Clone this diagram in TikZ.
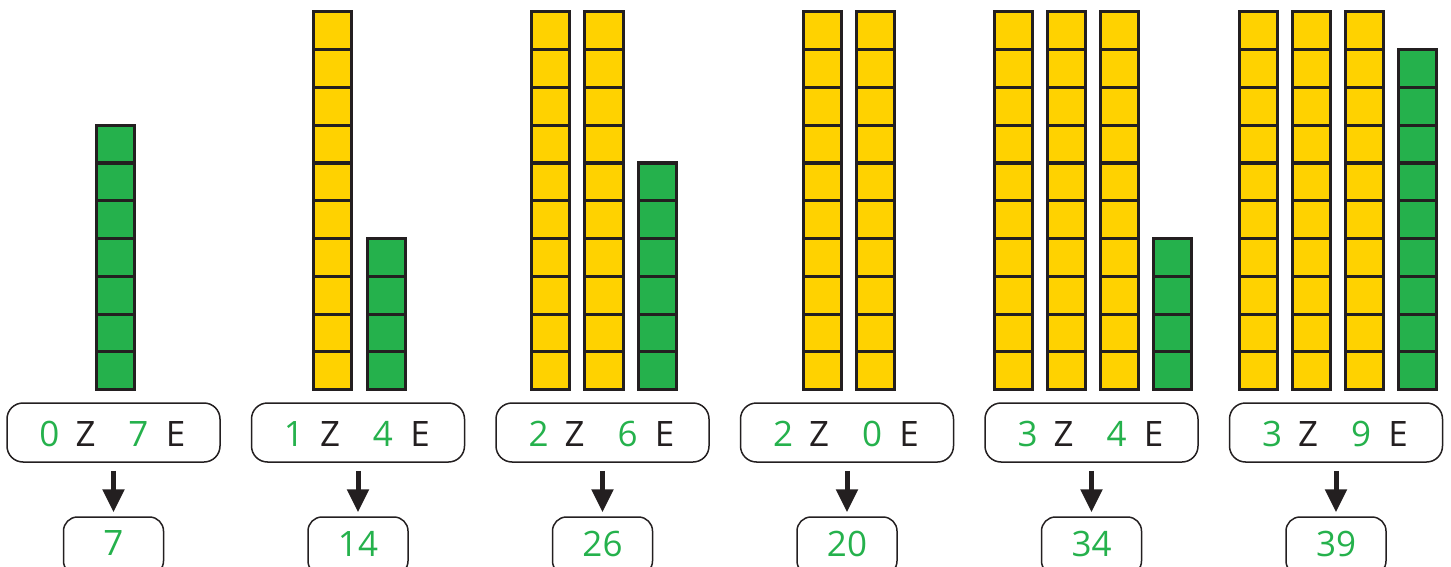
\documentclass[tikz,border=0pt]{standalone}
\usepackage{fontspec}
\setmainfont{Open Sans}
\usetikzlibrary{arrows.meta}
\definecolor{cgreen}{HTML}{25B14C}
\definecolor{cyellow}{HTML}{FFD200}
\definecolor{cline}{HTML}{231F20}
\newcommand\cubecol[3]{\foreach \k in {1,...,#2}{\draw[cube,fill=#3] ({#1},{389.5-37.75*\k}) rectangle ++(38.5,37.75);}}
\newcommand\grp[5]{%
 \node[bigbox] (b#1) at (#2,432.5) {};
 \node[dig] (b#1t) at ({#2-64},434) {#3};
 \node[let] (b#1z) at ({#2-28},434) {Z};
 \node[dig] (b#1o) at ({#2+25},434) {#4};
 \node[let] (b#1e) at ({#2+62},434) {E};
 \node[smallbox] (s#1) at (#2,546) {};
 \node[dig] (s#1t) at (#2,543.5) {#5};
 \draw[arr] (b#1) -- (s#1);
}
\begin{document}
\begin{tikzpicture}[x=1pt,y=-1pt,
  cube/.style={draw=cline,line width=3pt},
  bigbox/.style={draw=cline,line width=1.5pt,rounded corners=16pt,minimum width=213pt,minimum height=59pt,inner sep=0pt},
  smallbox/.style={draw=cline,line width=1.5pt,rounded corners=14pt,minimum width=100pt,minimum height=58pt,inner sep=0pt},
  dig/.style={inner sep=0pt,text=cgreen,font=\fontsize{35}{42}\selectfont},
  let/.style={inner sep=0pt,text=cline,font=\fontsize{35}{42}\selectfont},
  arr/.style={draw=cline,line width=5pt,-{Triangle[width=21pt,length=23pt]},shorten <=8pt,shorten >=4pt}]
\useasboundingbox (0,0) rectangle (1451,567);
\clip (0,0) rectangle (1451,567);
% group 1
\cubecol{96}{7}{cgreen}
% group 2
\cubecol{313}{10}{cyellow}
\cubecol{367}{4}{cgreen}
% group 3
\cubecol{531}{10}{cyellow}
\cubecol{584.5}{10}{cyellow}
\cubecol{638}{6}{cgreen}
% group 4
\cubecol{803}{10}{cyellow}
\cubecol{856}{10}{cyellow}
% group 5
\cubecol{994}{10}{cyellow}
\cubecol{1047}{10}{cyellow}
\cubecol{1100}{10}{cyellow}
\cubecol{1153}{4}{cgreen}
% group 6
\cubecol{1239}{10}{cyellow}
\cubecol{1292}{10}{cyellow}
\cubecol{1345}{10}{cyellow}
\cubecol{1398}{9}{cgreen}
% boxes
\grp{1}{113.5}{0}{7}{7}
\grp{2}{358}{1}{4}{14}
\grp{3}{602.5}{2}{6}{26}
\grp{4}{847}{2}{0}{20}
\grp{5}{1091.5}{3}{4}{34}
\grp{6}{1336}{3}{9}{39}
\end{tikzpicture}
\end{document}
